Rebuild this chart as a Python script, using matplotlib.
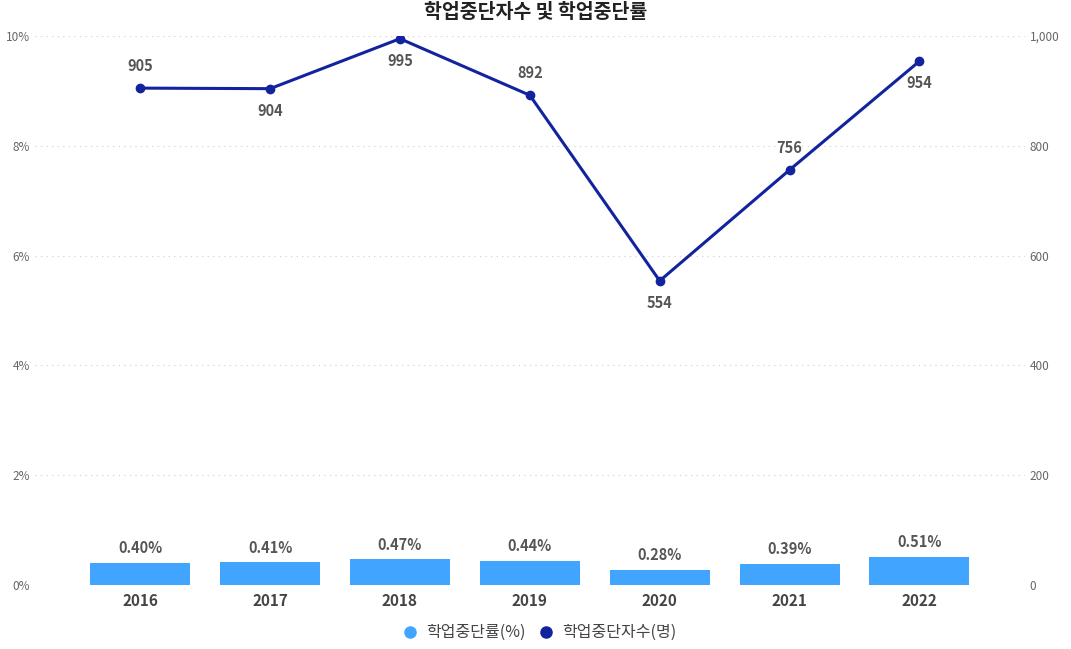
import matplotlib
matplotlib.use("Agg")
import matplotlib.pyplot as plt
from matplotlib import font_manager as fm

fam = None
for f in fm.findSystemFonts():
    n = f.lower()
    if "cjk" in n and ("kr" in n or "notosanscjk" in n or "sans" in n):
        try:
            fm.fontManager.addfont(f)
            fam = fm.FontProperties(fname=f).get_name()
            if "KR" in fam or "kr" in n:
                break
        except Exception:
            pass
if fam is None:
    for f in fm.findSystemFonts():
        if "cjk" in f.lower():
            try:
                fm.fontManager.addfont(f)
                fam = fm.FontProperties(fname=f).get_name()
                break
            except Exception:
                pass
plt.rcParams["font.family"] = [fam or "Noto Sans CJK KR", "DejaVu Sans"]

years = ["2016", "2017", "2018", "2019", "2020", "2021", "2022"]
rate = [0.40, 0.41, 0.47, 0.44, 0.28, 0.39, 0.51]
count = [905, 904, 995, 892, 554, 756, 954]
count_label_above = [True, False, False, True, False, True, False]

fig = plt.figure(figsize=(10.71, 6.49), dpi=100)
ax = fig.add_axes([0.0327, 0.0986, 0.924, 0.846])
ax2 = ax.twinx()
x = list(range(len(years)))

bar_c = "#41A4FF"
line_c = "#12239E"
ax.bar(x, rate, width=0.77, color=bar_c, zorder=2)
for xi, r in zip(x, rate):
    ax.text(xi, r + 0.12, f"{r:.2f}%", ha="center", va="bottom", fontsize=10.5,
            fontweight="bold", color="#555555")
ax.set_ylim(0, 10)
ax.set_yticks([0, 2, 4, 6, 8, 10])
ax.set_yticklabels([f"{v}%" for v in [0, 2, 4, 6, 8, 10]])
ax.set_xlim(-0.81, 6.81)
ax.set_xticks(x)
ax.set_xticklabels(years, fontweight="bold", fontsize=11, color="#444444")
ax.grid(axis="y", linestyle=(0, (1, 4)), color="#cccccc", zorder=0)

ax2.plot(x, count, color=line_c, lw=2.2, marker="o", ms=6, zorder=3)
for xi, c, up in zip(x, count, count_label_above):
    ax2.annotate(f"{c}", (xi, c), xytext=(0, 10 if up else -10), textcoords="offset points",
                 ha="center", va="bottom" if up else "top", fontsize=10.5,
                 fontweight="bold", color="#555555")
ax2.set_ylim(0, 1000)
ax2.set_yticks([0, 200, 400, 600, 800, 1000])
ax2.set_yticklabels(["0", "200", "400", "600", "800", "1,000"])

for a in (ax, ax2):
    for s in a.spines.values():
        s.set_visible(False)
    a.tick_params(length=0, labelsize=8.5, colors="#666666")
ax.tick_params(axis="x", labelsize=11, colors="#444444", pad=6)

fig.suptitle("학업중단자수 및 학업중단률", y=0.995, fontsize=14, fontweight="bold", color="#222222")

from matplotlib.lines import Line2D
handles = [Line2D([], [], marker="o", ls="", color=bar_c, ms=8),
           Line2D([], [], marker="o", ls="", color=line_c, ms=8)]
fig.legend(handles, ["학업중단률(%)", "학업중단자수(명)"], loc="lower center",
           bbox_to_anchor=(0.5, -0.01), ncol=2, frameon=False, fontsize=11.5,
           handletextpad=0.0, columnspacing=0.3, labelcolor="#444444")

fig.savefig("out.png", dpi=100)
